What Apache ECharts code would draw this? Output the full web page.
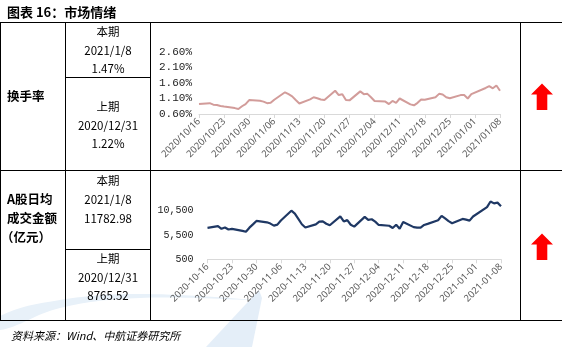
<!DOCTYPE html>
<html>
<head>
<meta charset="utf-8">
<script src="https://cdn.jsdelivr.net/npm/echarts@6/dist/echarts.min.js"></script>
<style>
  html, body { margin: 0; padding: 0; background: #fff; }
  #main { width: 562px; height: 347px; }
</style>
</head>
<body>
<div id="main"></div>
<script>
// Trading days covered by both panels
const tradeDates = [
  '2020-10-16',
  '2020-10-19','2020-10-20','2020-10-21','2020-10-22','2020-10-23',
  '2020-10-26','2020-10-27','2020-10-28','2020-10-29','2020-10-30',
  '2020-11-02','2020-11-03','2020-11-04','2020-11-05','2020-11-06',
  '2020-11-09','2020-11-10','2020-11-11','2020-11-12','2020-11-13',
  '2020-11-16','2020-11-17','2020-11-18','2020-11-19','2020-11-20',
  '2020-11-23','2020-11-24','2020-11-25','2020-11-26','2020-11-27',
  '2020-11-30','2020-12-01','2020-12-02','2020-12-03','2020-12-04',
  '2020-12-07','2020-12-08','2020-12-09','2020-12-10','2020-12-11',
  '2020-12-14','2020-12-15','2020-12-16','2020-12-17','2020-12-18',
  '2020-12-21','2020-12-22','2020-12-23','2020-12-24','2020-12-25',
  '2020-12-28','2020-12-29','2020-12-30','2020-12-31',
  '2021-01-04','2021-01-05','2021-01-06','2021-01-07','2021-01-08'
];

// 换手率 (%)
const turnoverRate = [
  0.92,
  0.95, 0.90, 0.89, 0.86, 0.84,
  0.79, 0.76, 0.85, 0.92, 1.05,
  1.03, 1.00, 0.95, 0.96, 1.06,
  1.30, 1.24, 1.17, 1.05, 0.94,
  1.07, 1.14, 1.11, 1.07, 1.05,
  1.35, 1.21, 1.24, 1.05, 1.04,
  1.33, 1.24, 1.25, 1.14, 1.02,
  1.00, 0.92, 1.02, 0.96, 1.10,
  0.91, 0.88, 0.96, 1.07, 1.06,
  1.14, 1.25, 1.23, 1.14, 1.11,
  1.21, 1.21, 1.10, 1.24,
  1.44, 1.50, 1.43, 1.52, 1.35
];

// A股日均成交金额 (亿元)
const turnoverAmount = [
  6980,
  7330, 6770, 7050, 6630, 6770,
  6350, 6170, 7010, 7680, 8390,
  8110, 7850, 7420, 7630, 8490,
  10500, 9910, 8810, 7710, 7050,
  7680, 8250, 8320, 7820, 7510,
  9340, 8280, 8560, 7610, 7220,
  9230, 8630, 8740, 8250, 7570,
  7400, 6940, 7610, 6800, 8180,
  7120, 7010, 7020, 7560, 7790,
  8530, 9440, 8910, 8350, 7930,
  8810, 8670, 8460, 9300,
  11240, 12400, 12010, 12160, 11420
];

// Axis ticks
const weekStart = '2020-10-16';
const weekEnd = '2021-01-08';
const rateTicks = [0.6, 1.1, 1.6, 2.1, 2.6];
const amountTicks = [500, 5500, 10500, 15500];

// Side-table texts
const titleText = '图表 16：市场情绪';
const rowNames = [['换手率'], ['A股日均', '成交金额', '（亿元）']];
const rateCurrent = ['本期', '2021/1/8', '1.47%'];
const ratePrevious = ['上期', '2020/12/31', '1.22%'];
const amountCurrent = ['本期', '2021/1/8', '11782.98'];
const amountPrevious = ['上期', '2020/12/31', '8765.52'];
const sourceText = '资料来源：Wind、中航证券研究所';

const DAY = 86400000;
const toUTC = s => { const p = s.split('-').map(Number); return Date.UTC(p[0], p[1] - 1, p[2]); };
const origin = toUTC(weekStart);
const dayIndex = s => Math.round((toUTC(s) - origin) / DAY);
const fmtDate = (offset, sep) => {
  const d = new Date(origin + offset * DAY);
  const mm = String(d.getUTCMonth() + 1).padStart(2, '0');
  const dd = String(d.getUTCDate()).padStart(2, '0');
  return d.getUTCFullYear() + sep + mm + sep + dd;
};
const withCommas = v => String(v).replace(/\B(?=(\d{3})+(?!\d))/g, ',');

const rateData = tradeDates.map((d, i) => [dayIndex(d), turnoverRate[i]]);
const amountData = tradeDates.map((d, i) => [dayIndex(d), turnoverAmount[i]]);
const span = dayIndex(weekEnd);

const cjk = '"Noto Sans CJK SC", "Noto Sans", sans-serif';
const mono = '"Liberation Mono", "DejaVu Sans Mono", monospace';

function hline(x1, x2, y) {
  return { type: 'line', z: 10, shape: { x1, y1: y, x2, y2: y }, style: { stroke: '#000', lineWidth: 1 } };
}
function vline(x, y1, y2) {
  return { type: 'line', z: 10, shape: { x1: x, y1, x2: x, y2 }, style: { stroke: '#000', lineWidth: 1 } };
}
function text(str, x, y, font, align) {
  return {
    type: 'text', z: 10, x, y,
    style: { text: str, font, fill: '#000', textAlign: align || 'center', textVerticalAlign: 'middle' }
  };
}
function arrow(cx, top, headY, bottom) {
  return {
    type: 'polygon', z: 10,
    shape: { points: [[cx, top], [cx + 11, headY], [cx + 5.3, headY], [cx + 5.3, bottom],
                      [cx - 5.3, bottom], [cx - 5.3, headY], [cx - 11, headY]] },
    style: { fill: '#ff0000' }
  };
}
function stack(lines, x, ys, font) {
  return lines.map((s, i) => text(s, x, ys[i], font, 'center'));
}

const cellFont = '11.5px ' + cjk;
const graphics = [
  // faint logo shapes in the background
  { type: 'polygon', z: 0, shape: { points: [[259, 290], [262, 298], [252, 347], [206, 347]] },
    style: { fill: '#e4eef8' } },
  { type: 'polygon', z: 0,
    shape: { smooth: 0.4, points: [[0, 316], [60, 300], [140, 294], [250, 300], [140, 298], [60, 308], [0, 330]] },
    style: { fill: '#e8f1f9' } },

  text(titleText, 7, 12.5, 'bold 13px ' + cjk, 'left'),

  // table grid
  hline(0, 562, 22.5), hline(0, 562, 170.5), hline(0, 562, 320.5),
  hline(65.5, 150.5, 77.5), hline(65.5, 150.5, 249.5),
  vline(0.5, 22.5, 320.5), vline(65.5, 22.5, 320.5),
  vline(150.5, 22.5, 320.5), vline(520.5, 22.5, 320.5),

  text(rowNames[0][0], 7, 96.5, 'bold 12.5px ' + cjk, 'left'),
  text(rowNames[1][0], 7, 199.5, 'bold 12.5px ' + cjk, 'left'),
  text(rowNames[1][1], 7, 218.5, 'bold 12.5px ' + cjk, 'left'),
  text(rowNames[1][2], 1, 237, 'bold 12.5px ' + cjk, 'left'),

  ...stack(rateCurrent, 108, [32, 51, 68.5], cellFont),
  ...stack(ratePrevious, 108, [106.5, 125.5, 144], cellFont),
  ...stack(amountCurrent, 108, [180.5, 199.5, 218.5], cellFont),
  ...stack(amountPrevious, 108, [258.5, 277.5, 296], cellFont),

  arrow(542, 83.5, 94.5, 110),
  arrow(542, 233.5, 244.5, 260),

  text(sourceText, 11, 336, 'italic 11px ' + cjk, 'left')
];

const xAxisCommon = {
  type: 'value', min: 0, max: span, interval: 7,
  axisLine: { show: true, lineStyle: { color: '#d9d9d9', width: 1 } },
  axisTick: { show: true, length: 4, lineStyle: { color: '#d9d9d9' } },
  splitLine: { show: false }
};

const chart = echarts.init(document.getElementById('main'), null, { renderer: 'canvas' });
chart.setOption({
  animation: false,
  backgroundColor: '#fff',
  graphic: { elements: graphics },
  grid: [
    { left: 199, right: 62, top: 52, bottom: 233 },
    { left: 207.5, right: 61, top: 186.4, bottom: 87.7 }
  ],
  xAxis: [
    Object.assign({}, xAxisCommon, {
      gridIndex: 0,
      axisLabel: { rotate: 45, margin: 6, fontSize: 9.5, color: '#595959', fontFamily: '"Noto Sans", sans-serif',
        formatter: v => fmtDate(v, '/') }
    }),
    Object.assign({}, xAxisCommon, {
      gridIndex: 1,
      axisLabel: { rotate: 45, margin: 6, fontSize: 9.5, color: '#595959', fontFamily: '"Noto Sans", sans-serif',
        formatter: v => fmtDate(v, '-') }
    })
  ],
  yAxis: [
    {
      gridIndex: 0, type: 'value',
      min: rateTicks[0], max: rateTicks[rateTicks.length - 1], interval: rateTicks[1] - rateTicks[0],
      axisLine: { show: false }, axisTick: { show: false }, splitLine: { show: false },
      axisLabel: { margin: 7, fontSize: 11, color: '#222', fontFamily: mono,
        formatter: v => v.toFixed(2) + '%' }
    },
    {
      gridIndex: 1, type: 'value',
      min: amountTicks[0], max: amountTicks[amountTicks.length - 1], interval: amountTicks[1] - amountTicks[0],
      axisLine: { show: false }, axisTick: { show: false }, splitLine: { show: false },
      axisLabel: { margin: 14, fontSize: 10, color: '#222', fontFamily: mono,
        formatter: v => (v >= amountTicks[amountTicks.length - 1] ? '' : withCommas(v)) }
    }
  ],
  series: [
    {
      type: 'line', xAxisIndex: 0, yAxisIndex: 0, data: rateData,
      showSymbol: false, symbol: 'none', z: 5,
      lineStyle: { color: '#d29c9a', width: 2 }
    },
    {
      type: 'line', xAxisIndex: 1, yAxisIndex: 1, data: amountData,
      showSymbol: false, symbol: 'none', z: 5,
      lineStyle: { color: '#1f3864', width: 2.2 }
    }
  ]
});
</script>
</body>
</html>
